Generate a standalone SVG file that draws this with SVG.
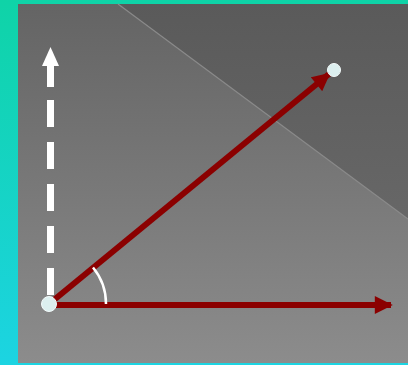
<svg xmlns="http://www.w3.org/2000/svg" width="408" height="365" viewBox="0 0 408 365">
<defs>
<linearGradient id="bg" x1="0" y1="0" x2="0" y2="1">
<stop offset="0" stop-color="#0fd3a7"/>
<stop offset="1" stop-color="#1cd4e2"/>
</linearGradient>
<linearGradient id="panel" x1="0" y1="0" x2="0" y2="1">
<stop offset="0" stop-color="#646464"/>
<stop offset="1" stop-color="#8c8c8c"/>
</linearGradient>
<linearGradient id="dark" x1="0" y1="0" x2="0" y2="1">
<stop offset="0" stop-color="#5a5a5a"/>
<stop offset="1" stop-color="#676767"/>
</linearGradient>
<marker id="redhead" viewBox="0 0 10 10" refX="9" refY="5" markerWidth="3.3" markerHeight="3" orient="auto" markerUnits="strokeWidth">
<path d="M0,0 L10,5 L0,10 z" fill="#8b0000"/>
</marker>
<style>
.vec{stroke:#8b0000;stroke-width:6;fill:none}
.pt{fill:#dcefef;stroke:#f4fbfb;stroke-width:1}
</style>
</defs>
<rect width="408" height="365" fill="url(#bg)"/>
<rect x="18" y="4" width="390" height="359" fill="url(#panel)"/>
<polygon points="118,4 408,4 408,219" fill="url(#dark)"/>
<line x1="118" y1="4" x2="408" y2="219" stroke="#8a8a8a" stroke-width="1.2"/>
<g id="connectors">
<g id="y-axis">
<line x1="50.5" y1="295" x2="50.5" y2="100" stroke="#ffffff" stroke-width="7" stroke-dasharray="27 15"/>
<rect x="47" y="65" width="7" height="22" fill="#ffffff"/>
<polygon points="50.5,47 59,66 42,66" fill="#ffffff"/>
</g>
<line id="x-vector" class="vec" x1="49" y1="305" x2="391" y2="305" marker-end="url(#redhead)"/>
<line id="diag-vector" class="vec" x1="49" y1="304" x2="329" y2="74" marker-end="url(#redhead)"/>
<path id="angle" d="M93,267.5 A57,57 0 0 1 106,304" fill="none" stroke="#ffffff" stroke-width="2.5"/>
</g>
<g id="origin"><circle class="pt" cx="49" cy="304" r="7.5"/></g>
<g id="endpoint"><circle class="pt" cx="334" cy="70" r="6.5"/></g>
</svg>
